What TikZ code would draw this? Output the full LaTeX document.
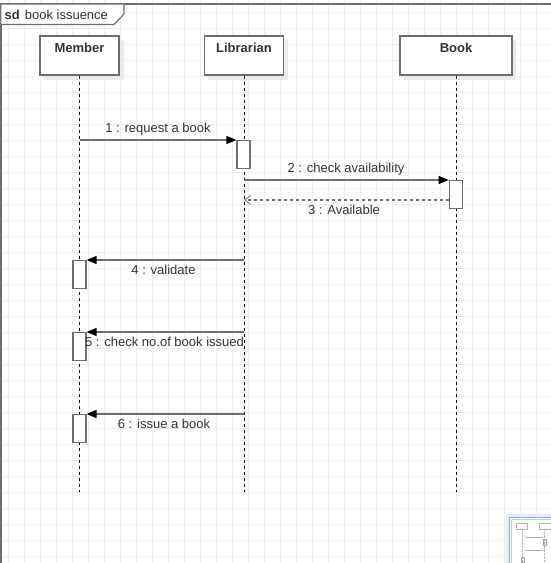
\documentclass[tikz,border=0pt]{standalone}
\usepackage{fontspec}
\setmainfont{Liberation Sans}
\usetikzlibrary{arrows.meta}
\definecolor{gridc}{HTML}{EDEDED}
\definecolor{ln}{HTML}{6E6E6E}
\definecolor{txt}{HTML}{333333}
\definecolor{shd}{HTML}{EAEAEA}
\definecolor{mapb}{HTML}{8AAEE6}
\tikzset{
  actorbox/.style={draw=ln, line width=1.3pt, fill=white, minimum width=79pt, minimum height=39pt, inner sep=0pt},
  actortext/.style={font=\fontsize{13}{15}\selectfont\bfseries, text=txt, inner sep=0pt},
  life/.style={draw=black, line width=1pt, dash pattern=on 3pt off 3pt},
  actbar/.style={draw=ln, line width=1.2pt, fill=white, minimum width=13pt, minimum height=28pt, inner sep=0pt, anchor=north},
  msg/.style={draw=ln, line width=1.4pt, -{Triangle[length=10pt,width=8pt,color=black]}},
  ret/.style={draw=ln, line width=1.2pt, dash pattern=on 3pt off 3pt, -{Straight Barb[length=6pt,width=9pt,line width=0.8pt,color=ln]}},
  lbl/.style={font=\fontsize{13}{15}\selectfont, text=txt, inner sep=0pt},
}
\begin{document}
\begin{tikzpicture}[x=1pt,y=-1pt]
\useasboundingbox (0,0) rectangle (551,563);
\fill[white] (0,0) rectangle (551,563);
% grid
\foreach \x in {8,24,...,551} \draw[gridc, line width=0.8pt] (\x,0) -- (\x,563);
\foreach \y in {12,28,...,563} \draw[gridc, line width=0.8pt] (0,\y) -- (551,\y);
% frame
\draw[ln, line width=1.6pt] (0.8,563) -- (0.8,4) -- (551,4);
\draw[ln, line width=1.2pt, fill=white] (0.8,4) -- (124,4) -- (124,14) -- (114,24.5) -- (0.8,24.5) -- cycle;
\node[lbl, anchor=west] (sdlabel) at (4.5,14.5) {\textbf{sd}\hspace{5pt}book issuence};
% shadows
\fill[shd] (44,40) rectangle (124,80);
\fill[shd] (208,40) rectangle (288,80);
\fill[shd] (404,40) rectangle (516,80);
% actor boxes
\node[actorbox] (mem) at (79.5,55.5) {};
\node[actorbox] (lib) at (244,55.5) {};
\node[actorbox, minimum width=112pt] (book) at (456,55.5) {};
\node[actortext] (memt) at (79.5,48) {Member};
\node[actortext] (libt) at (244,48) {Librarian};
\node[actortext] (bookt) at (456,48) {Book};
% lifeline ends
\coordinate (memE) at (79.5,492);
\coordinate (libE) at (244,492);
\coordinate (bookE) at (456,492);
\draw[life] (mem.south) -- (memE);
\draw[life] (lib.south) -- (libE);
\draw[life] (book.south) -- (bookE);
% activation bars
\node[actbar] (a1) at (243.5,139.5) {};
\node[actbar] (a2) at (455.8,179.5) {};
\node[actbar] (a3) at (79.5,260) {};
\node[actbar] (a4) at (79.5,332) {};
\node[actbar] (a5) at (79.5,414) {};
% message anchors on lifelines
\coordinate (m1s) at (79.5,140);
\coordinate (m2s) at (244,180);
\coordinate (m3e) at (244,200);
\coordinate (m4s) at (244,260);
\coordinate (m5s) at (244,332);
\coordinate (m6s) at (244,414);
% messages
\draw[msg] (m1s) -- (a1.north west |- m1s);
\draw[msg] (m2s) -- (a2.north west |- m2s);
\draw[ret] (a2.west |- m3e) -- (m3e);
\draw[msg] (m4s) -- (a3.north east |- m4s);
\draw[msg] (m5s) -- (a4.north east |- m5s);
\draw[msg] (m6s) -- (a5.north east |- m6s);
% labels
\node[lbl] (l1) at (158,129.5) {1 : request a book};
\node[lbl] (l2) at (346,169.5) {2 : check availability};
\node[lbl] (l3) at (344,209.5) {3 : Available};
\node[lbl] (l4) at (163.5,269.5) {4 : validate};
\node[lbl] (l5) at (164.5,341.5) {5 : check no.of book issued};
\node[lbl] (l6) at (164,424) {6 : issue a book};
% outline minimap (partly visible)
\fill[black!8] (506,514) rectangle (551,563);
\fill[white] (509,517) rectangle (551,563);
\draw[mapb, line width=1.3pt] (509.5,563) -- (509.5,517.5) -- (551,517.5);
\draw[mapb!60, line width=0.6pt] (511.5,563) -- (511.5,519.5) -- (551,519.5);
\draw[black!30, line width=0.5pt, fill=white] (516.7,523) rectangle (527.7,529);
\draw[black!30, line width=0.5pt, fill=white] (539,523) rectangle (551,529);
\draw[black!30, line width=0.4pt, densely dotted] (522,529) -- (522,563);
\draw[black!30, line width=0.4pt, densely dotted] (544,529) -- (544,563);
\draw[black!30, line width=0.4pt] (525,537.5) -- (543,537.5);
\draw[black!35, line width=0.5pt] (543,539) rectangle (546,545);
\draw[black!30, line width=0.4pt] (525,550) -- (543,550);
\draw[black!35, line width=0.5pt] (521,557) rectangle (524,562);
\end{tikzpicture}
\end{document}
